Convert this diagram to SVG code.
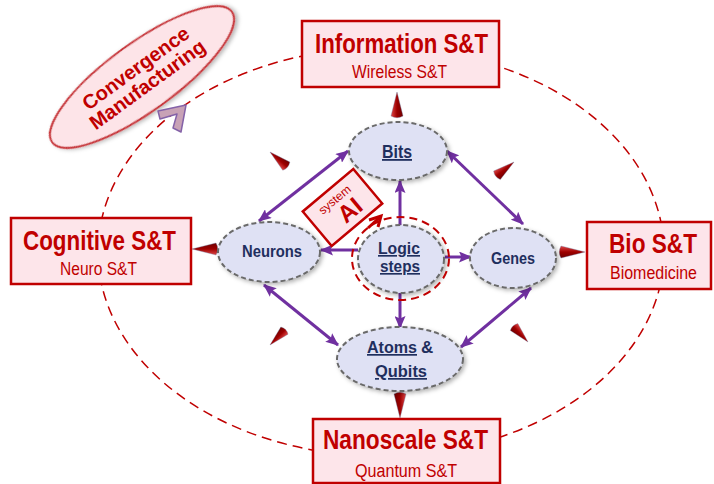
<svg xmlns="http://www.w3.org/2000/svg" xmlns:xlink="http://www.w3.org/1999/xlink" width="714" height="484" viewBox="0 0 714 484">
  <defs>
    <style>
      text { font-family: "Liberation Sans", Arial, sans-serif; }
      .box { fill: #fde5ea; stroke: #c00000; stroke-width: 2.5; }
      .title { fill: #c00000; font-weight: bold; }
      .sub { fill: #c00000; }
      .node { fill: #dfe1f4; stroke: #6b6b6b; stroke-width: 2; stroke-dasharray: 5 3; filter: url(#soft); }
      .lbl { fill: #1f2f5e; font-weight: bold; }
      .u { text-decoration: underline; }
      .orbit { fill: none; stroke: #c00000; stroke-width: 1.5; stroke-dasharray: 10 6; }
      .link { fill: none; stroke: #7030a0; stroke-width: 3; }
      .cone { fill: url(#coneGrad); stroke: #6d7fa6; stroke-width: 0.6; stroke-opacity: 0.6; }
    </style>
    <filter id="soft" x="-20%" y="-20%" width="150%" height="150%">
      <feDropShadow dx="2" dy="2" stdDeviation="2" flood-color="#000" flood-opacity="0.3"/>
    </filter>
    <linearGradient id="coneGrad" x1="0" y1="0" x2="0" y2="1">
      <stop offset="0" stop-color="#e04848"/>
      <stop offset="0.5" stop-color="#9e0000"/>
      <stop offset="1" stop-color="#6e0000"/>
    </linearGradient>
    <marker id="ah" viewBox="0 0 13 11" refX="12" refY="5.5" markerWidth="13" markerHeight="11" markerUnits="userSpaceOnUse" orient="auto-start-reverse">
      <path d="M0,0 L13,5.5 L0,11 L2.5,5.5 z" fill="#7030a0"/>
    </marker>
    <!-- cone pointer, tip at the origin, pointing along +x -->
    <path id="cone" d="M0,0 L-24,-6 Q-27.5,0 -24,6 Z"/>
  </defs>

  <rect width="714" height="484" fill="#ffffff"/>

  <!-- outer orbit -->
  <g id="orbit">
    <ellipse class="orbit" cx="381" cy="252" rx="283" ry="204"/>
  </g>

  <!-- convergence manufacturing label -->
  <g id="convergence" transform="translate(142,77) rotate(-36)">
    <ellipse cx="0" cy="0" rx="111" ry="34" fill="#fde4e8" stroke="#c8383c" stroke-width="2" filter="url(#soft)"/>
    <text x="0" y="-4" text-anchor="middle" font-size="20" font-weight="bold" fill="#c00000">Convergence</text>
    <text x="0" y="16" text-anchor="middle" font-size="20" font-weight="bold" fill="#c00000">Manufacturing</text>
  </g>
  <polygon id="chevron" points="158,111 186,105 181,132 173,128 177,114 160,119" fill="#c8a2b6" stroke="#8462a8" stroke-width="1.5" stroke-linejoin="round"/>

  <!-- connectors -->
  <g id="connectors">
    <line class="link" x1="348" y1="151" x2="259" y2="221" marker-start="url(#ah)" marker-end="url(#ah)"/>
    <line class="link" x1="447" y1="151" x2="523" y2="224" marker-start="url(#ah)" marker-end="url(#ah)"/>
    <line class="link" x1="264" y1="285" x2="338" y2="345" marker-start="url(#ah)" marker-end="url(#ah)"/>
    <line class="link" x1="531" y1="288" x2="461" y2="347" marker-start="url(#ah)" marker-end="url(#ah)"/>
    <line class="link" x1="400" y1="226" x2="400" y2="181" marker-end="url(#ah)"/>
    <line class="link" x1="358" y1="250" x2="321" y2="250" marker-end="url(#ah)"/>
    <line class="link" x1="445" y1="257" x2="471" y2="257" marker-end="url(#ah)"/>
    <line class="link" x1="400" y1="292" x2="400" y2="328" marker-end="url(#ah)"/>
    <!-- AI pointer -->
    <line x1="368" y1="228" x2="380" y2="217" stroke="#c00000" stroke-width="3"/>
    <polyline points="369,220 381,216 378,227" fill="none" stroke="#c00000" stroke-width="3" stroke-linejoin="miter"/>
    <!-- cone pointers -->
    <use href="#cone" class="cone" transform="translate(397,92) rotate(-90)"/>
    <use href="#cone" class="cone" transform="translate(192,249) rotate(180)"/>
    <use href="#cone" class="cone" transform="translate(585,252)"/>
    <use href="#cone" class="cone" transform="translate(400,418) rotate(90)"/>
    <use href="#cone" class="cone" transform="translate(270,152) rotate(-139) scale(0.9)"/>
    <use href="#cone" class="cone" transform="translate(514,162) rotate(-38) scale(0.9)"/>
    <use href="#cone" class="cone" transform="translate(528,342) rotate(47) scale(0.85)"/>
    <use href="#cone" class="cone" transform="translate(270,345) rotate(135) scale(0.85)"/>
  </g>

  <!-- outer domains -->
  <g id="information">
    <rect class="box" x="302" y="21" width="197" height="66"/>
    <text class="title" x="315" y="53" font-size="28" textLength="173" lengthAdjust="spacingAndGlyphs">Information S&amp;T</text>
    <text class="sub" x="352" y="78" font-size="18" textLength="95" lengthAdjust="spacingAndGlyphs">Wireless S&amp;T</text>
  </g>
  <g id="cognitive">
    <rect class="box" x="11" y="218" width="180" height="66"/>
    <text class="title" x="23" y="250" font-size="27" textLength="153" lengthAdjust="spacingAndGlyphs">Cognitive S&amp;T</text>
    <text class="sub" x="60" y="275" font-size="18" textLength="77" lengthAdjust="spacingAndGlyphs">Neuro S&amp;T</text>
  </g>
  <g id="bio">
    <rect class="box" x="587" y="222" width="124" height="67"/>
    <text class="title" x="609" y="253" font-size="27" textLength="88" lengthAdjust="spacingAndGlyphs">Bio S&amp;T</text>
    <text class="sub" x="610" y="279" font-size="18" textLength="87" lengthAdjust="spacingAndGlyphs">Biomedicine</text>
  </g>
  <g id="nanoscale">
    <rect class="box" x="313" y="419" width="187" height="64"/>
    <text class="title" x="323" y="449" font-size="27" textLength="165" lengthAdjust="spacingAndGlyphs">Nanoscale S&amp;T</text>
    <text class="sub" x="355" y="477" font-size="18" textLength="102" lengthAdjust="spacingAndGlyphs">Quantum S&amp;T</text>
  </g>

  <!-- inner nodes -->
  <g id="bits">
    <ellipse class="node" cx="398" cy="151" rx="49" ry="29"/>
    <text class="lbl u" x="382" y="158" font-size="18" textLength="30" lengthAdjust="spacingAndGlyphs">Bits</text>
  </g>
  <g id="neurons">
    <ellipse class="node" cx="269" cy="252" rx="51" ry="30"/>
    <text class="lbl" x="242" y="257" font-size="16" textLength="60" lengthAdjust="spacingAndGlyphs">Neurons</text>
  </g>
  <g id="genes">
    <ellipse class="node" cx="513" cy="258" rx="43" ry="30"/>
    <text class="lbl" x="491" y="264" font-size="16" textLength="44" lengthAdjust="spacingAndGlyphs">Genes</text>
  </g>
  <g id="atoms">
    <ellipse class="node" cx="400" cy="359" rx="63" ry="32"/>
    <text class="lbl u" x="367" y="353" font-size="17" textLength="50" lengthAdjust="spacingAndGlyphs">Atoms</text>
    <text class="lbl" x="421" y="353" font-size="17">&amp;</text>
    <text class="lbl u" x="375" y="377" font-size="17" textLength="52" lengthAdjust="spacingAndGlyphs">Qubits</text>
  </g>
  <g id="logic">
    <ellipse class="node" cx="401" cy="259" rx="43" ry="34"/>
    <ellipse cx="400.5" cy="258.5" rx="48.5" ry="41.5" fill="none" stroke="#c00000" stroke-width="2" stroke-dasharray="8 5"/>
    <text class="lbl u" x="378" y="254" font-size="16.5" textLength="42" lengthAdjust="spacingAndGlyphs">Logic</text>
    <text class="lbl u" x="380" y="272" font-size="16.5" textLength="40" lengthAdjust="spacingAndGlyphs">steps</text>
  </g>
  <g id="ai" transform="translate(342.5,207.5) rotate(-40)">
    <rect x="-33" y="-22.5" width="66" height="45" fill="#fde5ea" stroke="#c00000" stroke-width="2.5"/>
    <text x="-1" y="-7" text-anchor="middle" font-size="12" fill="#c00000">system</text>
    <text x="4" y="15" text-anchor="middle" font-size="24" font-weight="bold" fill="#c00000">AI</text>
  </g>
</svg>
